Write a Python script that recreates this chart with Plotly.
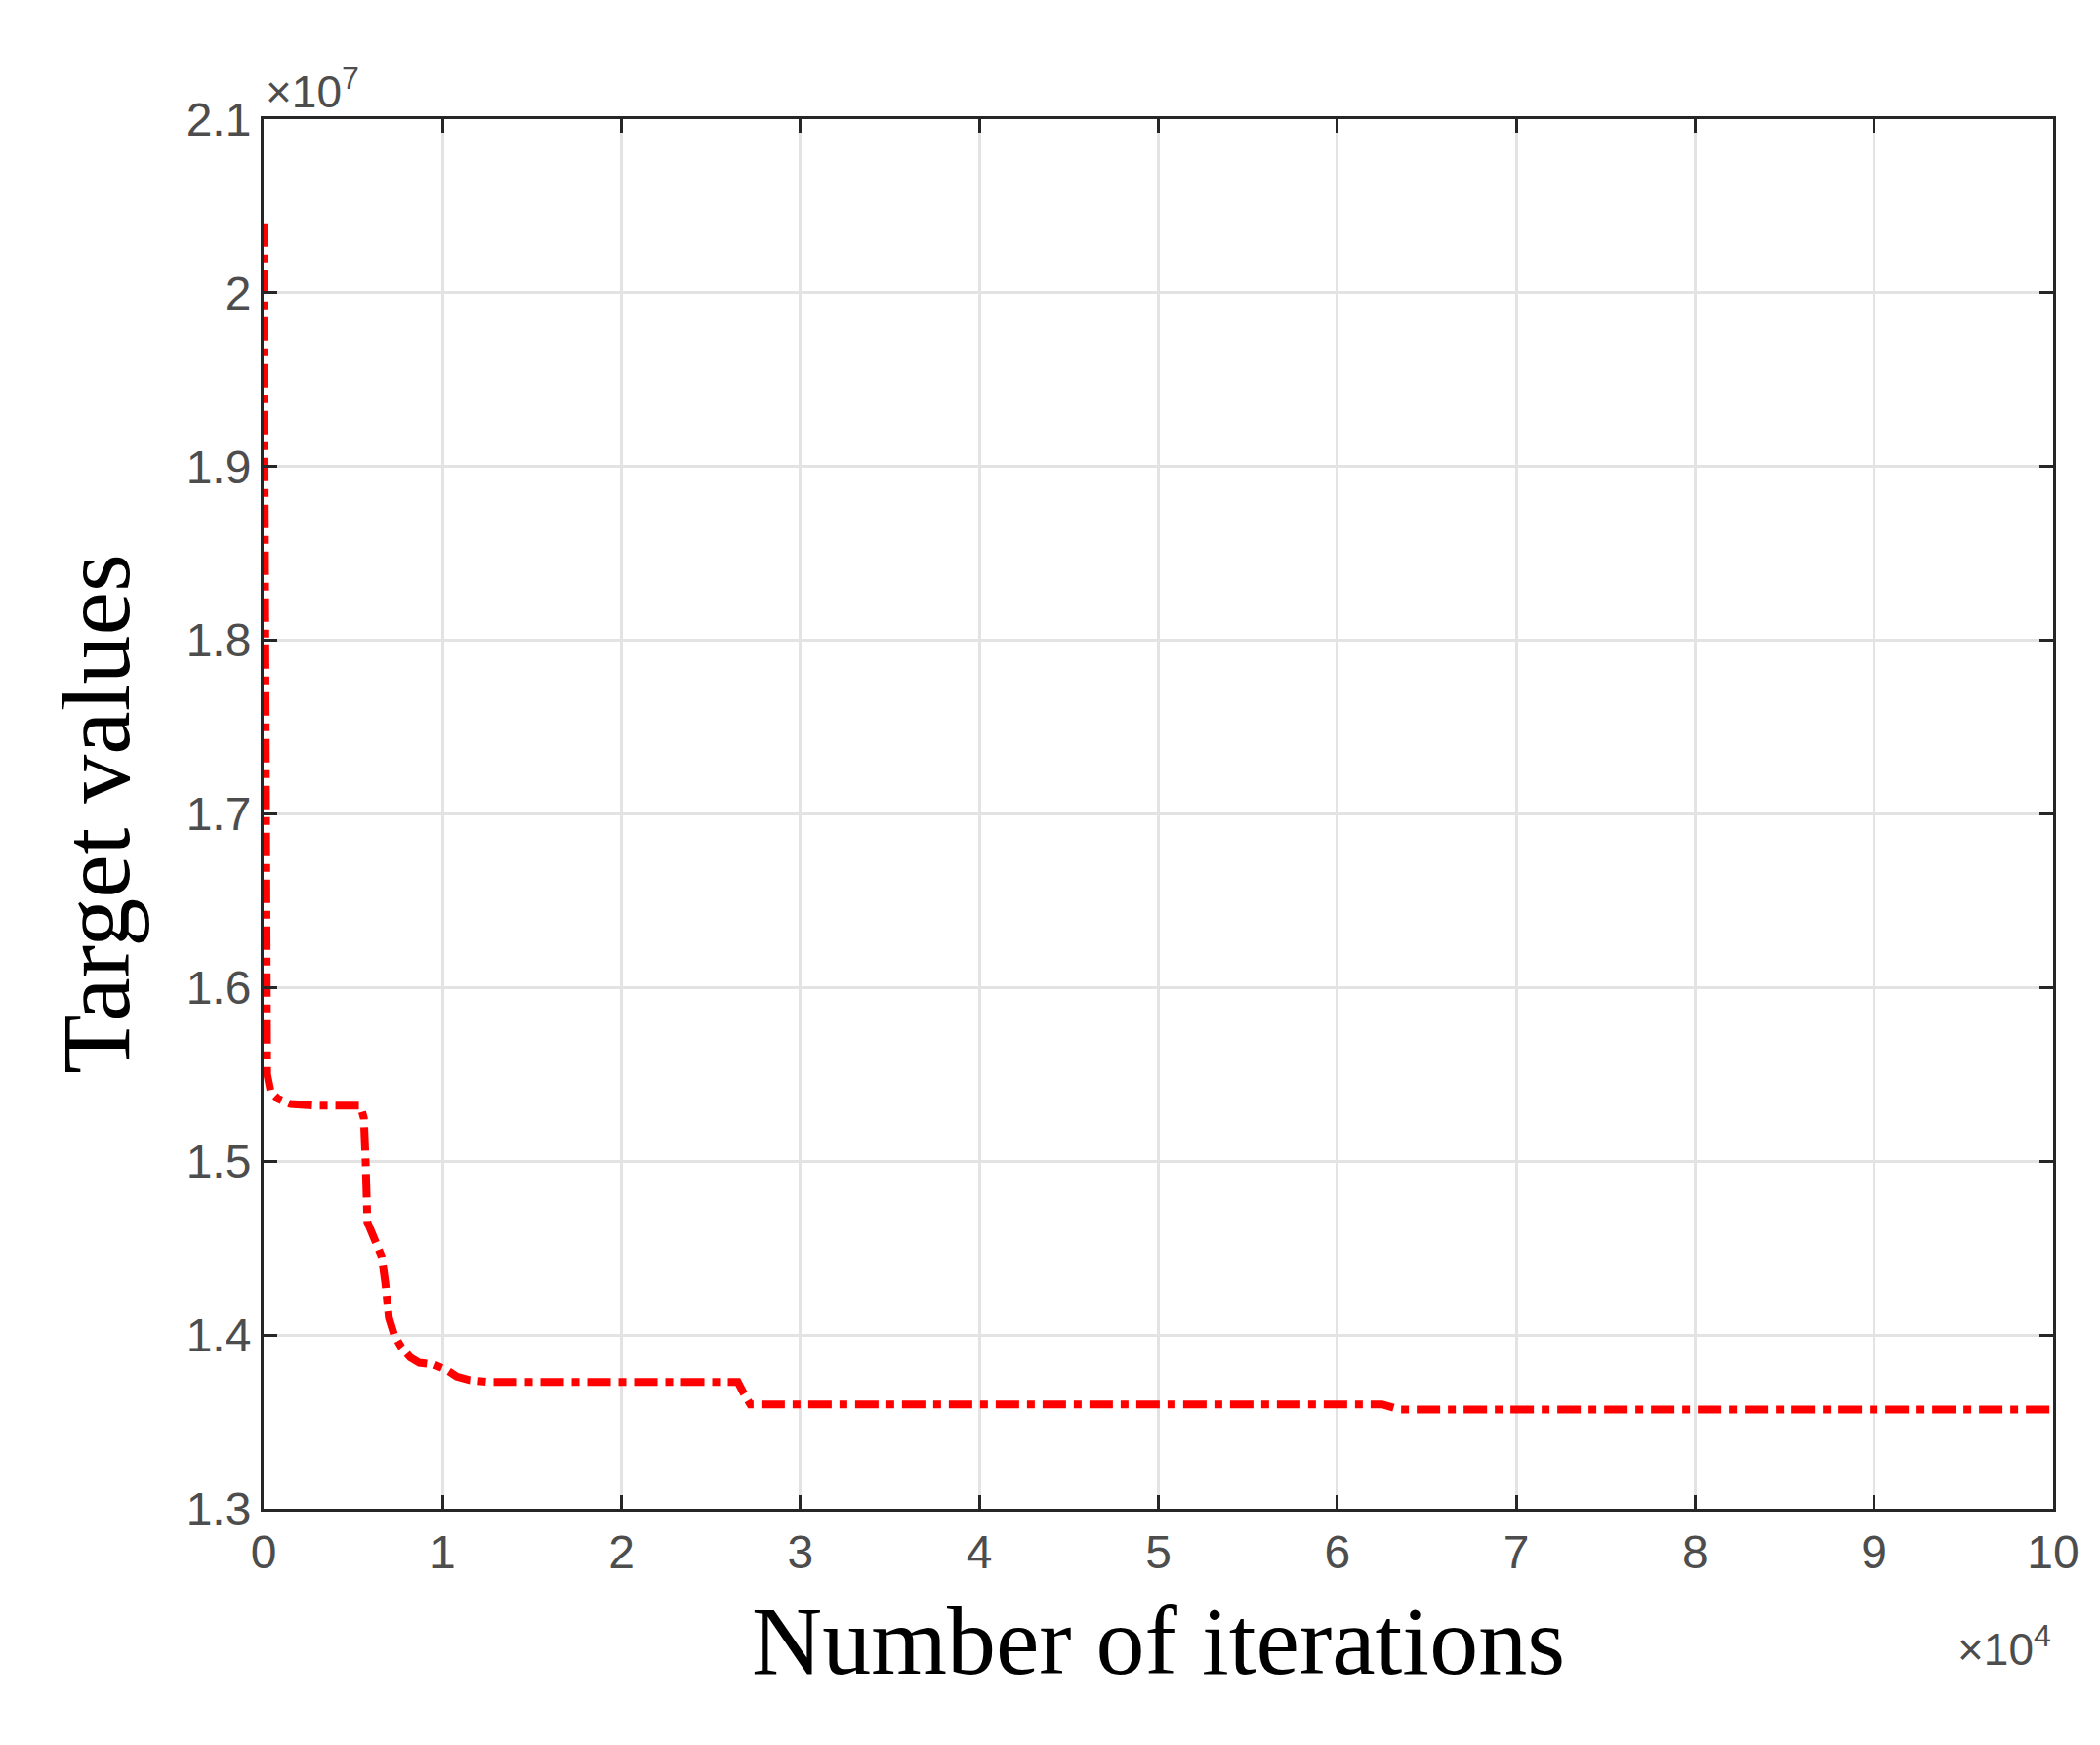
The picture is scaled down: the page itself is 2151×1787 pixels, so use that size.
import plotly.graph_objects as go

iterations = [0, 100, 200, 400, 800, 1500, 3000, 5400, 5600, 5700, 5800, 6200, 6600, 6800, 7000, 7300, 7700, 8200, 8700, 9500, 10200, 10800, 11500, 12500, 14000, 20000, 26500, 26800, 27200, 35000, 50000, 62500, 63500, 80000, 100000]
target = [2.04e7, 1.80e7, 1.55e7, 1.540e7, 1.536e7, 1.533e7, 1.532e7, 1.532e7, 1.525e7, 1.50e7, 1.465e7, 1.455e7, 1.445e7, 1.43e7, 1.41e7, 1.40e7, 1.393e7, 1.387e7, 1.384e7, 1.383e7, 1.38e7, 1.376e7, 1.374e7, 1.373e7, 1.373e7, 1.373e7, 1.373e7, 1.367e7, 1.360e7, 1.360e7, 1.360e7, 1.360e7, 1.357e7, 1.357e7, 1.357e7]
xticks = [0, 10000, 20000, 30000, 40000, 50000, 60000, 70000, 80000, 90000, 100000]
xticklabels = ["0", "1", "2", "3", "4", "5", "6", "7", "8", "9", "10"]
yticks = [1.3e7, 1.4e7, 1.5e7, 1.6e7, 1.7e7, 1.8e7, 1.9e7, 2.0e7, 2.1e7]
yticklabels = ["1.3", "1.4", "1.5", "1.6", "1.7", "1.8", "1.9", "2", "2.1"]

fig = go.Figure(go.Scatter(x=iterations, y=target, mode="lines",
                           line=dict(color="red", width=8, dash="dashdot", shape="linear")))
ax = dict(showline=True, linecolor="#262626", linewidth=3, mirror="ticks", ticks="inside",
          ticklen=14, tickwidth=3, tickcolor="#262626", showgrid=True, gridcolor="#e3e3e3",
          gridwidth=3, zeroline=False, tickfont=dict(family="Liberation Sans", size=48, color="#4d4d4d"))
fig.update_xaxes(**ax, range=[0, 100000], tickvals=xticks, ticktext=xticklabels,
                 title=dict(text="Number of iterations", font=dict(family="Liberation Serif", size=100, color="black"), standoff=30))
fig.update_yaxes(**ax, range=[1.3e7, 2.1e7], tickvals=yticks, ticktext=yticklabels,
                 title=dict(text="Target values", font=dict(family="Liberation Serif", size=100, color="black"), standoff=25))
fig.add_annotation(xref="paper", yref="paper", x=0, y=1, xanchor="left", yanchor="bottom", yshift=0,
                   text="×10<sup>7</sup>", showarrow=False, font=dict(family="Liberation Sans", size=46, color="#4d4d4d"))
fig.add_annotation(xref="paper", yref="paper", x=1, y=0, xanchor="right", yanchor="top", yshift=-110,
                   text="×10<sup>4</sup>", showarrow=False, font=dict(family="Liberation Sans", size=46, color="#4d4d4d"))
fig.update_layout(width=2151, height=1787, plot_bgcolor="white", paper_bgcolor="white",
                  margin=dict(l=262, r=56, t=114, b=250), showlegend=False)
fig.write_html("out.html")
